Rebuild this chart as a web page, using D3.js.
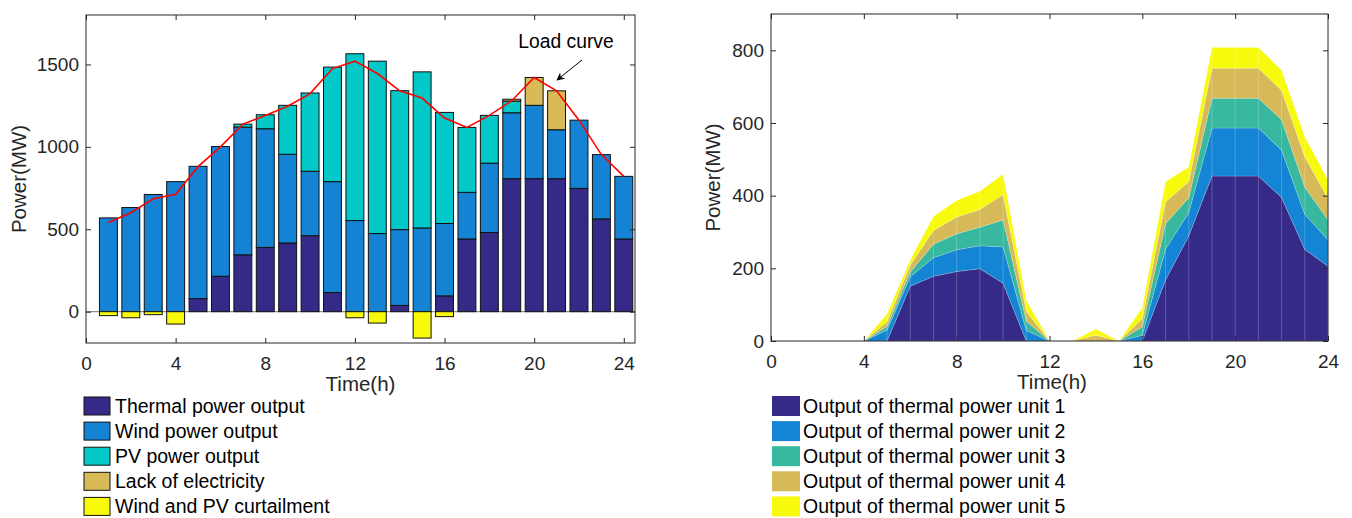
<!DOCTYPE html>
<html>
<head>
<meta charset="utf-8">
<script src="https://cdn.jsdelivr.net/npm/d3@7"></script>
<style>
  body { margin: 0; background: #fff; }
  svg { font-family: "Liberation Sans", Arial, sans-serif; }
  .tick text { fill: #262626; font-size: 19px; }
  .axis path, .axis line { stroke: #262626; }
</style>
</head>
<body>
<div id="chart"></div>
<script>
// hours 1..24
const hours = [1,2,3,4,5,6,7,8,9,10,11,12,13,14,15,16,17,18,19,20,21,22,23,24];

// left chart: power balance (MW)
const thermal = [0,0,0,0,79,215,345,390,417,461,116,0,0,38,0,96,441,480,807,807,807,748,563,441];
const wind    = [569,632,711,789,803,787,775,720,538,391,673,553,474,460,508,439,283,421,400,445,297,414,390,380];
const pv      = [0,0,0,0,0,0,18,85,297,475,695,1012,1046,843,947,674,394,290,71,0,0,0,0,0];
const lack    = [0,0,0,0,0,0,0,0,0,0,0,0,0,0,0,0,0,0,11,169,236,0,0,0];
const curtail = [-24,-37,-18,-75,0,0,0,0,0,0,0,-37,-69,0,-160,-30,0,0,0,0,0,0,0,0];
const load    = [541,600,685,713,880,1000,1138,1190,1246,1323,1475,1520,1445,1340,1296,1175,1118,1191,1280,1421,1340,1162,953,821];

// right chart: output of thermal units (MW)
const unit1 = [0,0,0,0,0,151,178,191,199,159,0,0,0,0,0,0,168,289,454,454,454,395,252,206];
const unit2 = [0,0,0,0,30,26,51,60,63,100,29,0,0,0,0,16,85,64,132,132,132,130,97,72];
const unit3 = [0,0,0,0,10,13,37,44,51,74,26,0,0,0,0,23,70,41,82,82,82,84,75,55];
const unit4 = [0,0,0,0,13,19,38,46,49,70,27,0,0,16,0,23,60,44,83,83,83,81,83,59];
const unit5 = [0,0,0,0,21,14,39,46,50,56,30,0,0,17,0,30,55,41,57,57,57,55,55,51];

const xTicks = [0,4,8,12,16,20,24];
const leftYTicks = [0,500,1000,1500];
const rightYTicks = [0,200,400,600,800];

const leftNames = ["Thermal power output","Wind power output","PV power output","Lack of electricity","Wind and PV curtailment"];
const leftColors = ["#352a87","#1483d4","#03c8c8","#d8ba57","#f9f90c"];
const unitNames = ["Output of thermal power unit 1","Output of thermal power unit 2","Output of thermal power unit 3","Output of thermal power unit 4","Output of thermal power unit 5"];
const unitColors = ["#352a87","#1484d4","#38b89e","#d6b958","#f8fa0e"];

const width = 1352, height = 518;

const svg = d3.select("#chart").append("svg")
    .attr("width", width)
    .attr("height", height);

// draw a MATLAB-like boxed frame with inward ticks
function frame(g, x, y, xt, yt) {
  const [x0, x1] = x.range();
  const [y1, y0] = y.range();
  g.append("g").attr("class","axis")
      .attr("transform", `translate(0,${y1})`)
      .call(d3.axisBottom(x).tickValues(xt).tickFormat(d3.format("d")).tickSizeInner(-5).tickSizeOuter(0).tickPadding(14))
      .call(a => a.select(".domain").remove());
  g.append("g").attr("class","axis")
      .attr("transform", `translate(${x0},0)`)
      .call(d3.axisLeft(y).tickValues(yt).tickFormat(d3.format("d")).tickSizeInner(-5).tickSizeOuter(0).tickPadding(7))
      .call(a => a.select(".domain").remove());
  g.append("g").attr("class","axis")
      .attr("transform", `translate(0,${y0})`)
      .call(d3.axisTop(x).tickValues(xt).tickSizeInner(-5).tickSizeOuter(0).tickFormat(""))
      .call(a => a.select(".domain").remove());
  g.append("g").attr("class","axis")
      .attr("transform", `translate(${x1},0)`)
      .call(d3.axisRight(y).tickValues(yt).tickSizeInner(-5).tickSizeOuter(0).tickFormat(""))
      .call(a => a.select(".domain").remove());
  g.append("rect")
      .attr("x", x0).attr("y", y0)
      .attr("width", x1 - x0).attr("height", y1 - y0)
      .attr("fill", "none").attr("stroke", "#262626").attr("stroke-width", 1);
}

// ---------- LEFT CHART ----------
const xL = d3.scaleLinear().domain([0, 24.5]).range([86, 635]);
const yL = d3.scaleLinear().domain([-190, 1800]).range([343, 15]);
const gL = svg.append("g");

const rowsL = hours.map((h, i) => ({hour: h, thermal: thermal[i], wind: wind[i], pv: pv[i], lack: lack[i], curtail: curtail[i]}));
const keysL = ["thermal","wind","pv","lack"];
const stackL = d3.stack().keys(keysL)(rowsL);
const bw = xL(0.8) - xL(0);

// zero baseline
gL.append("line")
    .attr("x1", xL(0)).attr("x2", xL(24.5))
    .attr("y1", yL(0)).attr("y2", yL(0))
    .attr("stroke", "#777").attr("stroke-width", 1);

stackL.forEach((layer, k) => {
  gL.append("g").selectAll("rect")
    .data(layer.filter(d => d[1] - d[0] > 0))
    .join("rect")
      .attr("x", d => xL(d.data.hour) - bw / 2)
      .attr("width", bw)
      .attr("y", d => yL(d[1]))
      .attr("height", d => yL(d[0]) - yL(d[1]))
      .attr("fill", leftColors[k])
      .attr("stroke", "#111")
      .attr("stroke-width", 1);
});

gL.append("g").selectAll("rect")
  .data(rowsL.filter(d => d.curtail < 0))
  .join("rect")
    .attr("x", d => xL(d.hour) - bw / 2)
    .attr("width", bw)
    .attr("y", yL(0))
    .attr("height", d => yL(d.curtail) - yL(0))
    .attr("fill", leftColors[4])
    .attr("stroke", "#111")
    .attr("stroke-width", 1);

// load curve
gL.append("path")
    .datum(hours.map((h, i) => [h, load[i]]))
    .attr("fill", "none")
    .attr("stroke", "#ff0000")
    .attr("stroke-width", 1.6)
    .attr("d", d3.line().x(d => xL(d[0])).y(d => yL(d[1])));

frame(gL, xL, yL, xTicks, leftYTicks);

// annotation
svg.append("defs").append("marker")
    .attr("id", "arrow")
    .attr("viewBox", "0 0 10 10")
    .attr("refX", 9).attr("refY", 5)
    .attr("markerWidth", 10).attr("markerHeight", 8)
    .attr("markerUnits", "userSpaceOnUse")
    .attr("orient", "auto")
  .append("path")
    .attr("d", "M0,0 L10,5 L0,10 L3,5 Z")
    .attr("fill", "#000");

gL.append("line")
    .attr("x1", 582).attr("y1", 60)
    .attr("x2", 557).attr("y2", 80)
    .attr("stroke", "#000").attr("stroke-width", 1)
    .attr("marker-end", "url(#arrow)");

gL.append("text")
    .attr("x", 566).attr("y", 48)
    .attr("text-anchor", "middle")
    .attr("font-size", 19.3)
    .attr("fill", "#000")
    .text("Load curve");

gL.append("text")
    .attr("transform", `translate(26,${(15 + 343) / 2}) rotate(-90)`)
    .attr("text-anchor", "middle")
    .attr("font-size", 20.5)
    .attr("fill", "#262626")
    .text("Power(MW)");

gL.append("text")
    .attr("x", (86 + 635) / 2).attr("y", 391)
    .attr("text-anchor", "middle")
    .attr("font-size", 20.5)
    .attr("fill", "#262626")
    .text("Time(h)");

// left legend
const legL = gL.append("g").selectAll("g")
  .data(leftNames)
  .join("g")
    .attr("transform", (d, i) => `translate(84,${397 + i * 25.1})`);
legL.append("rect")
    .attr("width", 26).attr("height", 18)
    .attr("fill", (d, i) => leftColors[i])
    .attr("stroke", "#111").attr("stroke-width", 1);
legL.append("text")
    .attr("x", 31).attr("y", 16)
    .attr("font-size", 19.5)
    .attr("fill", "#000")
    .text(d => d);

// ---------- RIGHT CHART ----------
const xR = d3.scaleLinear().domain([0, 24]).range([771, 1328]);
const yR = d3.scaleLinear().domain([0, 900]).range([341, 14]);
const gR = svg.append("g");

const rowsR = hours.map((h, i) => ({hour: h, u1: unit1[i], u2: unit2[i], u3: unit3[i], u4: unit4[i], u5: unit5[i]}));
const stackR = d3.stack().keys(["u1","u2","u3","u4","u5"])(rowsR);

const area = d3.area()
    .x(d => xR(d.data.hour))
    .y0(d => yR(d[0]))
    .y1(d => yR(d[1]));

gR.append("g").selectAll("path")
  .data(stackR)
  .join("path")
    .attr("fill", (d, i) => unitColors[i])
    .attr("stroke", "rgba(255,255,255,0.25)")
    .attr("stroke-width", 0.7)
    .attr("d", area);

// faint patch seams at each hour
const topLayer = stackR[stackR.length - 1];
gR.append("g").selectAll("line")
  .data(topLayer.filter(d => d[1] > 0))
  .join("line")
    .attr("x1", d => xR(d.data.hour)).attr("x2", d => xR(d.data.hour))
    .attr("y1", yR(0)).attr("y2", d => yR(d[1]))
    .attr("stroke", "rgba(255,255,255,0.22)")
    .attr("stroke-width", 1);

frame(gR, xR, yR, xTicks, rightYTicks);

gR.append("text")
    .attr("transform", `translate(720,${(14 + 341) / 2}) rotate(-90)`)
    .attr("text-anchor", "middle")
    .attr("font-size", 20.5)
    .attr("fill", "#262626")
    .text("Power(MW)");

gR.append("text")
    .attr("x", 1052).attr("y", 389)
    .attr("text-anchor", "middle")
    .attr("font-size", 20.5)
    .attr("fill", "#262626")
    .text("Time(h)");

const legR = gR.append("g").selectAll("g")
  .data(unitNames)
  .join("g")
    .attr("transform", (d, i) => `translate(772,${396 + i * 25.1})`);
legR.append("rect")
    .attr("width", 28).attr("height", 20)
    .attr("fill", (d, i) => unitColors[i]);
legR.append("text")
    .attr("x", 31).attr("y", 17)
    .attr("font-size", 19.5)
    .attr("fill", "#000")
    .text(d => d);
</script>
</body>
</html>
